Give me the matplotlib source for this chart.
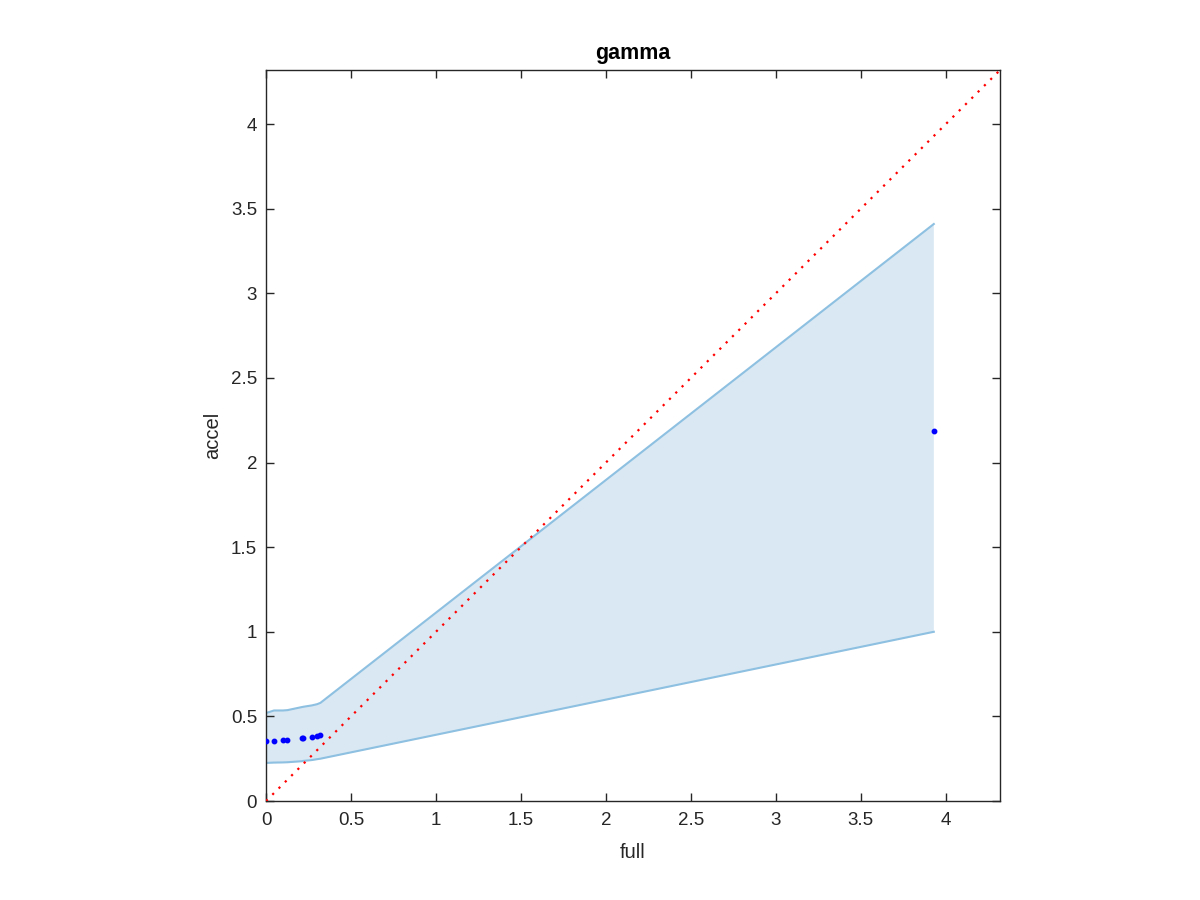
import matplotlib
matplotlib.use("Agg")
import matplotlib.pyplot as plt
import numpy as np

plt.rcParams['font.family'] = ['Liberation Sans', 'DejaVu Sans']

# data
full = [0.0, 0.047, 0.10, 0.126, 0.21, 0.22, 0.27, 0.30, 0.32, 3.93]
accel = [0.355, 0.357, 0.362, 0.363, 0.373, 0.374, 0.38, 0.387, 0.39, 2.185]
band_upper = [0.52, 0.535, 0.535, 0.537, 0.555, 0.557, 0.565, 0.572, 0.58, 3.41]
band_lower = [0.225, 0.227, 0.228, 0.229, 0.235, 0.237, 0.242, 0.247, 0.25, 1.0]
lim = 4.32
ticks = [0, 0.5, 1, 1.5, 2, 2.5, 3, 3.5, 4]
tick_labels = ['0', '0.5', '1', '1.5', '2', '2.5', '3', '3.5', '4']

fig = plt.figure(figsize=(12, 9), dpi=100)
ax = fig.add_axes([0.2217, 0.11, 0.6117, 0.8122])

ax.fill_between(full, band_lower, band_upper, facecolor='#d9e8f3', edgecolor='none', zorder=1)
ax.plot(full, band_upper, color='#8dc0e1', lw=1.5, zorder=2)
ax.plot(full, band_lower, color='#8dc0e1', lw=1.5, zorder=2)
ax.plot([0, lim], [0, lim], color='red', linestyle=(0, (1, 3)), lw=1.6, zorder=3)
ax.plot(full, accel, linestyle='none', marker='o', markersize=3.2, color='blue', zorder=4)

ax.set_xlim(0, lim)
ax.set_ylim(0, lim)
ax.set_xticks(ticks)
ax.set_xticklabels(tick_labels)
ax.set_yticks(ticks)
ax.set_yticklabels(tick_labels)
ax.tick_params(direction='in', length=6, width=1, top=True, right=True,
               labelsize=13.5, colors='#262626')
ax.tick_params(axis='x', pad=8)
ax.tick_params(axis='y', pad=6.5)
for s in ax.spines.values():
    s.set_color('#262626')
    s.set_linewidth(1)

ax.set_xlabel('full', fontsize=14.5, color='#262626', labelpad=10)
ax.set_ylabel('accel', fontsize=14.5, color='#262626', labelpad=6.5)
ax.set_title('gamma', fontsize=15.5, fontweight='bold', pad=8)

fig.savefig('out.png', dpi=100)
